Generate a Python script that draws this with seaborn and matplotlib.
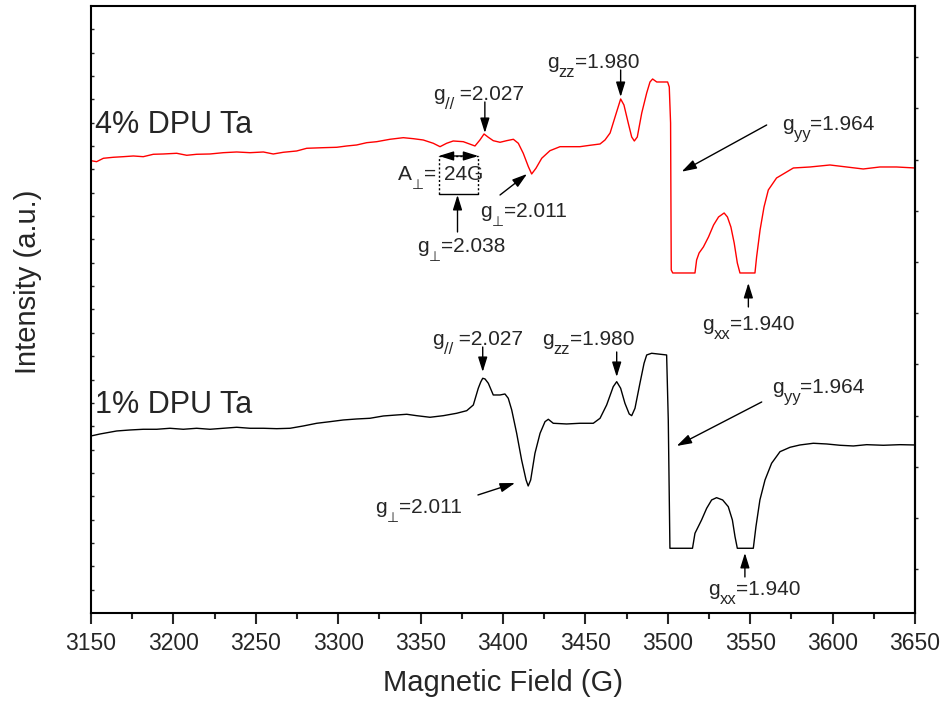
import numpy as np
import pandas as pd
import matplotlib
matplotlib.use("Agg")
import matplotlib.pyplot as plt
import seaborn as sns

# ---- EPR spectra (magnetic field in G, intensity in arbitrary units) ----
field_4pct = [3150, 3153.4, 3157.5, 3163.5, 3169.6, 3175.7, 3181.7, 3187.8, 3193.9, 3202,
              3208.1, 3214.1, 3222.2, 3230.3, 3238.4, 3246.5, 3254.6, 3260.6, 3266.7, 3274.8,
              3280.9, 3291, 3299.1, 3305.2, 3311.2, 3317.3, 3323.4, 3331.4, 3339.5, 3345.6,
              3351.6, 3357.7, 3361.8, 3365.8, 3369.8, 3375.9, 3383, 3386, 3388.5, 3391.1,
              3394.1, 3398.2, 3402.2, 3406.3, 3409.3, 3412.3, 3415.4, 3417.4, 3420, 3423.5,
              3428.5, 3434.6, 3438.6, 3446.7, 3452.8, 3458.9, 3461.9, 3465, 3468, 3471.4,
              3473.4, 3476, 3478.1, 3479.7, 3481.5, 3484.2, 3487.2, 3489.2, 3490.8, 3493.3,
              3499.9, 3500.9, 3501.7, 3502.1, 3503, 3516.5, 3517.5, 3519, 3521.6, 3524.7,
              3527.8, 3530.8, 3534.2, 3536.2, 3538.3, 3540.3, 3542.2, 3543.8, 3552.9, 3553.9,
              3556, 3558.4, 3561, 3566, 3571.1, 3576.2, 3586.3, 3598.4, 3608.5, 3618.6,
              3628.7, 3638.8, 3650]
intensity_4pct = [452.3, 451.3, 454.7, 455.7, 456.3, 457, 456.3, 458.7, 459, 459.7,
                  457.7, 458.7, 459, 460.3, 461, 460.3, 461, 459, 460.7, 462,
                  464.7, 465.3, 465.7, 467, 468, 470.3, 471.3, 473.7, 475.3, 474.3,
                  473, 469.7, 466.3, 469.7, 472, 471.3, 467, 473, 479, 475.7,
                  472.3, 470.7, 472.3, 473.7, 469.7, 459.7, 446.3, 439, 444.7, 454.7,
                  462.3, 466.3, 466.3, 466.3, 467.7, 469, 473, 480, 496, 514,
                  508, 490, 476, 472, 476, 500, 520, 531, 534, 531,
                  531, 526, 490, 343, 340, 340, 353, 360, 366, 376,
                  388, 396, 400, 396, 386, 370, 350, 340, 340, 356,
                  383, 406, 423, 435, 440, 445, 446, 448, 446, 444,
                  446, 446, 445]

field_1pct = [3150, 3155.5, 3165.6, 3173.7, 3181.7, 3189.9, 3197.9, 3206, 3214.1, 3222.2,
              3230.3, 3238.4, 3246.5, 3254.6, 3262.7, 3270.8, 3278.8, 3287, 3295, 3303.1,
              3311.2, 3319.3, 3327.4, 3335.5, 3341.6, 3347.6, 3355.7, 3363.8, 3371.9, 3378,
              3382, 3385, 3386.5, 3387.7, 3389.1, 3391.1, 3394.1, 3398.2, 3401.2, 3403.2,
              3405.3, 3408.3, 3411.3, 3414, 3415.3, 3416.8, 3419.4, 3422.5, 3425.5, 3427.5,
              3430.5, 3438.6, 3446.7, 3454.8, 3458.9, 3462.9, 3466.9, 3469, 3471.4, 3474,
              3476.6, 3478.1, 3480.1, 3483.1, 3485.6, 3487.2, 3490.2, 3499.3, 3500.3, 3501.3,
              3515, 3516.5, 3517.5, 3520.5, 3523.6, 3526.6, 3529.6, 3533.3, 3536.7, 3539.2,
              3540.8, 3542.2, 3551.9, 3553.5, 3555.9, 3559, 3563, 3568.1, 3574.2, 3580.2,
              3588.3, 3596.4, 3604.5, 3612.6, 3620.7, 3630.8, 3640.9, 3650]
intensity_1pct = [177, 179, 182, 183, 183.7, 183.7, 184.7, 183.7, 184.7, 183.7,
                  184.7, 185.7, 184.7, 184.7, 184.3, 184.7, 187, 189.7, 191.3, 193,
                  194, 194.7, 197, 198, 198.7, 197.3, 195.7, 197.3, 199.7, 202.3,
                  208, 224.7, 231, 234.7, 234, 229.7, 218, 218, 219, 214.7,
                  203, 179.7, 153, 133, 127, 133, 159.7, 179.7, 191.3, 193.7,
                  189.7, 189, 189.7, 189.7, 194.7, 208, 226.3, 231.3, 224.7, 209.7,
                  199, 197.3, 204.7, 229.7, 249.7, 258, 259.7, 258, 193, 64.7,
                  64.7, 79.7, 83, 93, 104.7, 113, 115.3, 113, 106.3, 93,
                  76.3, 64.7, 64.7, 86.3, 113, 133, 149.7, 161.3, 165.7, 168,
                  169.7, 169, 167.7, 167, 168.3, 167.7, 168.3, 168]

x_ticks = [3150, 3200, 3250, 3300, 3350, 3400, 3450, 3500, 3550, 3600, 3650]
series_names = ["4% DPU Ta", "1% DPU Ta"]

sns.set_style("ticks")
plt.rcParams["font.family"] = ["Liberation Sans", "DejaVu Sans"]

fig = plt.figure(figsize=(9.46, 7.13), dpi=100)
fig.subplots_adjust(left=0.0962, right=0.9672, bottom=0.1403, top=0.9916)
ax = fig.add_subplot(111)

df4 = pd.DataFrame({"B": field_4pct, "I": intensity_4pct})
df1 = pd.DataFrame({"B": field_1pct, "I": intensity_1pct})
sns.lineplot(data=df4, x="B", y="I", color="#ff0000", lw=1.0, ax=ax,
             estimator=None, sort=False)
sns.lineplot(data=df1, x="B", y="I", color="black", lw=1.0, ax=ax,
             estimator=None, sort=False)

ax.set_xlim(3150, 3650)
ax.set_ylim(0, 607)

for side in ["left", "right", "top", "bottom"]:
    ax.spines[side].set_linewidth(1.5)
    ax.spines[side].set_color("black")

ax.set_xticks(x_ticks)
ax.set_xticks(np.arange(3175, 3650, 50), minor=True)
ax.tick_params(axis="x", which="major", direction="out", length=8, width=1.5,
               labelsize=16.5, pad=6, top=False)
ax.tick_params(axis="x", which="minor", direction="out", length=4.5, width=1.5, top=False)

ax.set_yticks(np.arange(1, 26) * 607 / 26)
ax.set_yticks([], minor=True)
ax.tick_params(axis="y", which="major", direction="in", length=2.5, width=1.0,
               labelleft=False, right=False)

sec = ax.secondary_yaxis("right")
sec.set_yticks([607 - 51.2 * k for k in range(1, 12)])
sec.tick_params(direction="out", length=2.5, width=1.0, labelright=False)
sec.spines["right"].set_linewidth(1.5)

ax.set_xlabel("Magnetic Field (G)", fontsize=21, labelpad=10)
ax.set_ylabel("Intensity (a.u.)", fontsize=21)
ax.yaxis.set_label_coords(-0.06, 0.545)

# series names
ax.text(3152.4, 480, series_names[0], fontsize=22, ha="left", va="baseline")
ax.text(3152.4, 200, series_names[1], fontsize=22, ha="left", va="baseline")

renderer = fig.canvas.get_renderer()
FS, FS_SUB, SUB_DROP = 15, 12, -6.5
PERP = "\u22a5"


def label(x, y, parts):
    """Write text made of (string, is_subscript) pieces, left to right."""
    off = 0.0
    for s, is_sub in parts:
        size = (10 if s == PERP else FS_SUB) if is_sub else FS
        t = ax.annotate(s, xy=(x, y), xycoords="data",
                        xytext=(off, SUB_DROP if is_sub else 0),
                        textcoords="offset points", fontsize=size,
                        ha="left", va="baseline")
        off += t.get_window_extent(renderer).width * 72 / fig.dpi


arrow = dict(arrowstyle="-|>,head_length=0.9,head_width=0.28", color="black",
             lw=1.0, shrinkA=0, shrinkB=0)


def point(tail, tip):
    ax.annotate("", xy=tip, xytext=tail, xycoords="data", textcoords="data",
                arrowprops=arrow)


# 4% DPU Ta annotations
label(3357.5, 513, [("g", False), ("//", True), (" =2.027", False)])
point((3389, 511), (3389, 480))
label(3336.0, 433, [("A", False), (PERP, True), ("=", False)])
ax.text(3364.0, 433, "24G", fontsize=FS, ha="left", va="baseline")
ax.plot([3361, 3361], [419, 457], color="black", lw=1.0, ls=(0, (1.5, 1.5)))
ax.plot([3385, 3385], [419, 457], color="black", lw=1.0, ls=(0, (1.5, 1.5)))
ax.plot([3361, 3385], [457, 457], color="black", lw=1.0, ls=(0, (1.5, 1.5)))
ax.plot([3361, 3385], [419, 419], color="black", lw=1.0)
ax.annotate("", xy=(3385, 457), xytext=(3361, 457),
            arrowprops=dict(arrowstyle="<|-|>,head_length=0.9,head_width=0.28",
                            color="black", lw=1.0, shrinkA=0, shrinkB=0))
label(3347.8, 361, [("g", False), (PERP, True), ("=2.038", False)])
point((3372.4, 381), (3372.4, 418))
label(3386, 396, [("g", False), (PERP, True), ("=2.011", False)])
point((3398.2, 418), (3414.6, 439))
label(3426.7, 545, [("g", False), ("zz", True), ("=1.980", False)])
point((3471.4, 543), (3471.4, 516))
label(3569.3, 483, [("g", False), ("yy", True), ("=1.964", False)])
point((3560, 488), (3508.4, 441.3))
label(3520.8, 283, [("g", False), ("xx", True), ("=1.940", False)])
point((3548.9, 306), (3548.9, 330))

# 1% DPU Ta annotations
label(3356.9, 268, [("g", False), ("//", True), (" =2.027", False)])
point((3387.7, 266), (3387.7, 241))
label(3423.7, 268, [("g", False), ("zz", True), ("=1.980", False)])
point((3469, 261), (3469, 236))
label(3563.2, 220, [("g", False), ("yy", True), ("=1.964", False)])
point((3557, 211), (3505.4, 167))
label(3524.4, 18, [("g", False), ("xx", True), ("=1.940", False)])
point((3546.8, 36), (3546.8, 60))
label(3322.3, 100, [("g", False), (PERP, True), ("=2.011", False)])
point((3384.8, 118), (3407.3, 130))

fig.savefig("out.png", dpi=100)
